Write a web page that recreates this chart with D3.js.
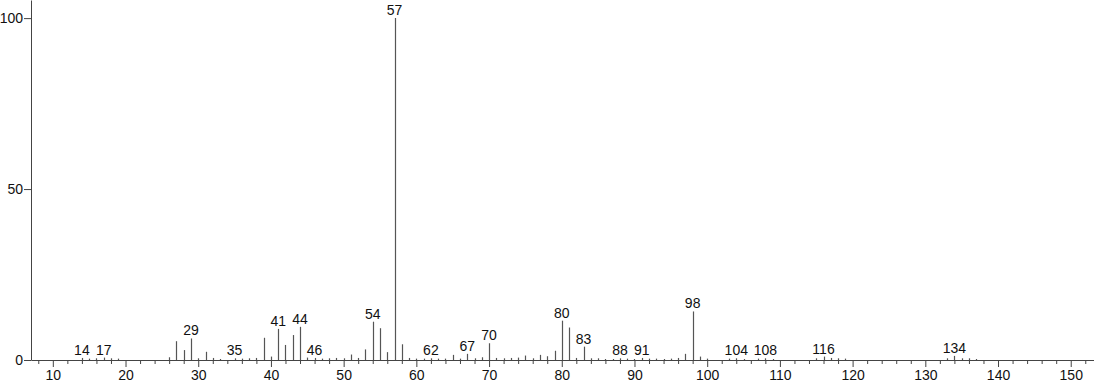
<!DOCTYPE html>
<html>
<head>
<meta charset="utf-8">
<script src="https://cdn.jsdelivr.net/npm/d3@7"></script>
<style>
  html, body { margin: 0; padding: 0; background: #fff; }
  svg { display: block; }
  text { font-family: "Liberation Sans", Arial, sans-serif; fill: #111; }
</style>
</head>
<body>
<svg id="chart" width="1094" height="384"></svg>
<script>
// m/z values and relative intensities (%)
const masses = [14,15,16,17,18,19,26,27,28,29,30,31,32,33,35,36,37,38,39,40,41,42,43,44,45,46,47,48,49,50,
  51,52,53,54,55,56,57,58,59,60,61,62,63,64,65,66,67,68,69,70,71,72,73,74,75,76,77,78,79,80,
  81,82,83,84,85,86,87,88,89,90,91,92,93,94,95,96,97,98,99,100,103,104,105,107,108,109,
  115,116,117,118,119,133,134,135,136,137];
const intensities = [0.6,0.4,0.5,0.7,0.5,0.4,0.8,5.5,2.9,6.3,0.5,2.4,0.6,0.3,0.5,0.4,0.5,0.6,6.5,1.0,9.1,4.4,7.3,9.7,0.7,0.6,0.4,0.5,0.6,0.5,
  1.6,0.6,3.1,11.2,9.3,2.3,100,4.6,0.6,0.4,0.4,0.5,0.4,0.4,1.5,0.4,1.8,0.5,0.8,4.9,0.6,0.5,0.6,0.7,1.3,0.5,1.5,1.1,2.7,11.5,
  9.5,0.6,3.9,0.5,0.5,0.3,0.3,0.5,0.4,0.3,0.6,0.4,0.4,0.3,0.4,0.6,1.8,14.2,1.0,0.4,0.4,0.5,0.3,0.4,0.5,0.3,
  0.5,1.0,0.6,0.5,0.4,0.5,1.2,0.5,0.5,0.3];
const labeledMasses = [14,17,29,35,41,44,46,54,57,62,67,70,80,83,88,91,98,104,108,116,134];
const xMajorTicks = [10,20,30,40,50,60,70,80,90,100,110,120,130,140,150];
const xMinorTicks = d3.range(8, 153, 2).filter(v => v % 10 !== 0);
const yTicks = [0, 50, 100];

const peaks = masses.map((m, i) => ({ m, v: intensities[i] }));

const svg = d3.select("#chart");
const x = d3.scaleLinear().domain([7, 153.2]).range([31, 1094]);
const y = d3.scaleLinear().domain([0, 105.3]).range([360, 0]);

const axisColor = "#444";
const peakColor = "#555";
const fontSize = 14;

// peaks
svg.append("g").selectAll("line").data(peaks).join("line")
  .attr("x1", d => Math.round(x(d.m)) + 0.5).attr("x2", d => Math.round(x(d.m)) + 0.5)
  .attr("y1", y(0)).attr("y2", d => y(d.v))
  .attr("stroke", peakColor).attr("stroke-width", 1.2);

// peak labels
svg.append("g").selectAll("text").data(peaks.filter(d => labeledMasses.includes(d.m))).join("text")
  .attr("x", d => x(d.m)).attr("y", d => y(d.v) - 3)
  .attr("text-anchor", "middle").attr("font-size", fontSize)
  .text(d => d.m);

// x axis minor
const gxMinor = svg.append("g").attr("transform", `translate(0,${y(0)})`)
  .call(d3.axisBottom(x).tickValues(xMinorTicks).tickSize(4).tickFormat(""));
gxMinor.select(".domain").remove();
gxMinor.selectAll("line").attr("stroke", axisColor);

// x axis major
const gx = svg.append("g").attr("transform", `translate(0,${y(0)})`)
  .call(d3.axisBottom(x).tickValues(xMajorTicks).tickSize(7).tickPadding(3).tickSizeOuter(0));
gx.select(".domain").attr("stroke", axisColor);
gx.selectAll("line").attr("stroke", axisColor);
gx.selectAll("text").attr("font-size", fontSize).attr("font-family", "Liberation Sans, Arial, sans-serif").attr("fill", "#111");

// y axis
const gy = svg.append("g").attr("transform", `translate(${x(7)},0)`)
  .call(d3.axisLeft(y).tickValues(yTicks).tickSize(7).tickPadding(1).tickSizeOuter(0));
gy.select(".domain").attr("stroke", axisColor);
gy.selectAll("line").attr("stroke", axisColor);
gy.selectAll("text").attr("font-size", fontSize).attr("font-family", "Liberation Sans, Arial, sans-serif").attr("fill", "#111");
</script>
</body>
</html>
